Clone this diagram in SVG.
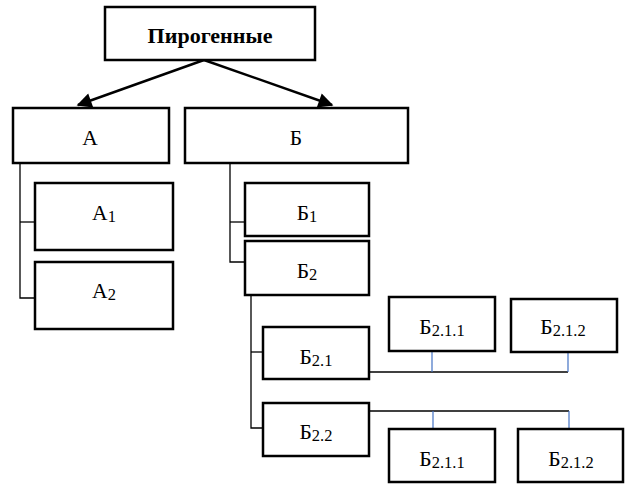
<svg xmlns="http://www.w3.org/2000/svg" width="625" height="484" viewBox="0 0 625 484">
<style>
.box{fill:#fff;stroke:#000;stroke-width:2.5}
.t{font-family:"Liberation Serif","Times New Roman",serif;font-size:21.5px;fill:#000;text-anchor:middle}
.s{font-size:16.5px}
.c{fill:none;stroke:#000;stroke-width:1.3}
.b{fill:none;stroke:#4472C4;stroke-width:1.2}
.ar{fill:none;stroke:#000;stroke-width:2.4}
</style>
<defs>
<marker id="ah2" viewBox="0 0 10 10" refX="9" refY="5" markerWidth="17" markerHeight="15" orient="auto" markerUnits="userSpaceOnUse">
<path d="M0,0 L10,5 L0,10 z" fill="#000"/>
</marker>
</defs>
<g id="connectors">
<line class="ar" x1="204" y1="60" x2="78" y2="105" marker-end="url(#ah2)"/>
<line class="ar" x1="204" y1="60" x2="332" y2="105" marker-end="url(#ah2)"/>
<polyline class="c" points="20,163 20,298 35,298"/>
<line class="c" x1="20" y1="222" x2="35" y2="222"/>
<polyline class="c" points="230,163 230,262 245,262"/>
<line class="c" x1="230" y1="222" x2="245" y2="222"/>
<polyline class="c" points="251,295 251,428 263,428"/>
<line class="c" x1="251" y1="352" x2="263" y2="352"/>
<line class="c" x1="369" y1="372" x2="568" y2="372"/>
<line class="b" x1="432" y1="351" x2="432" y2="372"/>
<line class="b" x1="568" y1="352" x2="568" y2="372"/>
<line class="c" x1="369" y1="411" x2="569" y2="411"/>
<line class="b" x1="433" y1="411" x2="433" y2="429"/>
<line class="b" x1="569" y1="411" x2="569" y2="429"/>
</g>
<g id="pirogennye">
<rect class="box" x="105" y="7" width="210" height="53"/>
<text class="t" x="210" y="43" style="font-weight:bold;font-size:22px">Пирогенные</text>
</g>
<g id="A">
<rect class="box" x="13" y="108" width="156" height="55"/>
<text class="t" x="90" y="145">А</text>
</g>
<g id="B">
<rect class="box" x="185" y="108" width="223" height="55"/>
<text class="t" x="296" y="145">Б</text>
</g>
<g id="A1">
<rect class="box" x="35" y="183" width="138" height="67"/>
<text class="t" x="104" y="220">А<tspan class="s" dy="2">1</tspan></text>
</g>
<g id="A2">
<rect class="box" x="35" y="262" width="138" height="67"/>
<text class="t" x="104" y="298">А<tspan class="s" dy="2">2</tspan></text>
</g>
<g id="B1">
<rect class="box" x="245" y="183" width="124" height="53"/>
<text class="t" x="307" y="220">Б<tspan class="s" dy="2">1</tspan></text>
</g>
<g id="B2">
<rect class="box" x="245" y="241" width="124" height="54"/>
<text class="t" x="307" y="278">Б<tspan class="s" dy="2">2</tspan></text>
</g>
<g id="B21">
<rect class="box" x="263" y="327" width="106" height="52"/>
<text class="t" x="316" y="364">Б<tspan class="s" dy="2">2.1</tspan></text>
</g>
<g id="B22">
<rect class="box" x="263" y="403" width="106" height="53"/>
<text class="t" x="316" y="439">Б<tspan class="s" dy="2">2.2</tspan></text>
</g>
<g id="B211a">
<rect class="box" x="389" y="297" width="106" height="54"/>
<text class="t" x="442" y="334">Б<tspan class="s" dy="2">2.1.1</tspan></text>
</g>
<g id="B212a">
<rect class="box" x="511" y="299" width="106" height="53"/>
<text class="t" x="563" y="334">Б<tspan class="s" dy="2">2.1.2</tspan></text>
</g>
<g id="B211b">
<rect class="box" x="389" y="429" width="106" height="53"/>
<text class="t" x="442" y="466">Б<tspan class="s" dy="2">2.1.1</tspan></text>
</g>
<g id="B212b">
<rect class="box" x="518" y="429" width="105" height="53"/>
<text class="t" x="571" y="466">Б<tspan class="s" dy="2">2.1.2</tspan></text>
</g>
</svg>
